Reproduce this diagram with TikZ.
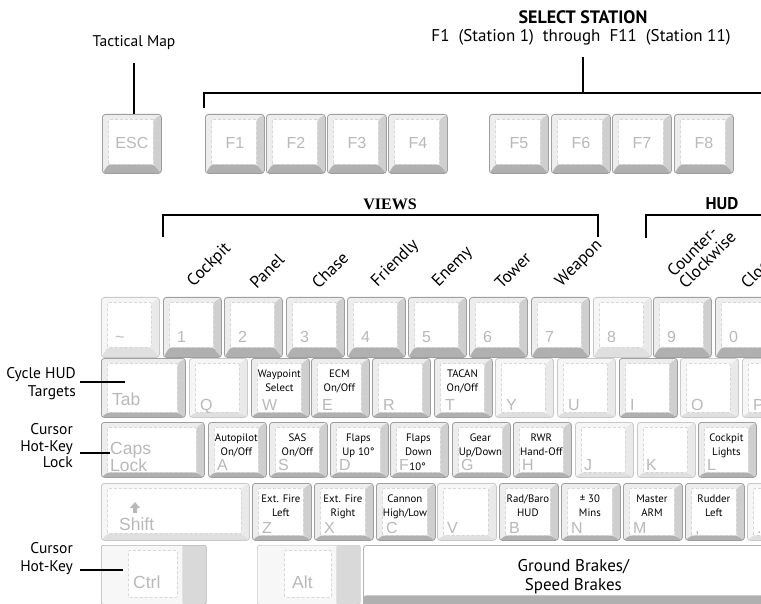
\documentclass[tikz,border=0pt]{standalone}
\usepackage{fontspec}
\setmainfont{PT Sans}
\newfontfamily\keyfont{Liberation Sans}
\newfontfamily\viewsfont{Liberation Serif}
\usetikzlibrary{arrows.meta, positioning}

\tikzset{
    key bottom/.store in=\keybottom,
    key side/.store in=\keyside,
    key inset/.store in=\keyinset,
    key bottom=gray!60,
    key side=gray!35,
    key inset=9pt,
}

\begin{document}
\begin{tikzpicture}[
    x=1pt, y=-1pt,
    keycap/.style={draw=gray!75, fill=gray!14, line width=0.8pt,
                   rounded corners=3pt, anchor=north west, inner sep=0pt,
                   minimum width=58pt, minimum height=59pt,
                   key bottom=gray!62, key side=gray!38,
                   path picture={
                     \coordinate (fsw) at ([shift={(6pt,\keyinset)}]path picture bounding box.south west);
                     \coordinate (fne) at ([shift={(-8pt,-5pt)}]path picture bounding box.north east);
                     \fill[fill=\keybottom] (path picture bounding box.south west) -- (path picture bounding box.south east)
                         -- (fne |- fsw) -- (fsw) -- cycle;
                     \fill[fill=\keyside] (path picture bounding box.south east) -- (path picture bounding box.north east)
                         -- (fne) -- (fne |- fsw) -- cycle;
                     \draw[gray!45, densely dashed, line width=0.4pt, fill=white, rounded corners=1pt] (fsw) rectangle (fne);
                   }},
    keydark/.style={},
    keylite/.style={draw=gray!42, fill=gray!7, key bottom=gray!25, key side=gray!17},
    flatkey/.style={draw=gray!60, fill=gray!6, line width=0.6pt, rounded corners=2pt,
                    anchor=north west, inner sep=0pt, minimum height=59pt,
                    path picture={
                      \fill[gray!30] ([xshift=-24pt]path picture bounding box.north east) rectangle (path picture bounding box.south east);
                      \draw[gray!45, densely dashed, line width=0.4pt, fill=white, rounded corners=1pt]
                          ([shift={(27pt,7pt)}]path picture bounding box.south west)
                          rectangle ([shift={(-29pt,-5pt)}]path picture bounding box.north east);
                    }},
    spacekey/.style={draw=gray!60, fill=white, line width=0.8pt, rounded corners=3pt,
                     anchor=north west, inner sep=0pt, align=center,
                     font=\fontsize{17}{18.5}\selectfont,
                     path picture={
                       \fill[gray!62] (path picture bounding box.south west) rectangle ([yshift=12pt]path picture bounding box.south east);
                     }},
    legend/.style={font=\keyfont\fontsize{16}{16}\selectfont, text=gray!55, inner sep=0pt, anchor=base west},
    bigleg/.style={legend, font=\keyfont\fontsize{17.5}{16}\selectfont, align=left},
    fnlabel/.style={font=\fontsize{10.8}{13.5}\selectfont, align=center, inner sep=0pt, anchor=north},
    note/.style={font=\fontsize{15.5}{18}\selectfont, align=right, inner sep=0pt},
    viewlbl/.style={font=\fontsize{17}{16.5}\selectfont, rotate=45, anchor=south west, inner sep=0pt, align=left},
    heading/.style={font=\bfseries\fontsize{18}{18}\selectfont, inner sep=0pt},
    bracket/.style={line width=1.3pt},
    leader/.style={line width=1.2pt},
]
    \useasboundingbox (0,0) rectangle (761,604);
    \clip (0,0) rectangle (761,604);

    % function keys
    \foreach \nm/\lx/\lg in {kEsc/102/ESC, kF1/205/F1, kF2/266/F2, kF3/327/F3, kF4/388/F4,
                             kF5/489/F5, kF6/551/F6, kF7/612/F7, kF8/674/F8}{
        \node[keycap, minimum width=59pt] (\nm) at (\lx,114) {};
        \node[legend, anchor=center] (\nm-lg) at ([yshift=1pt]\nm.center) {\lg};
    }

    % number row
    \foreach \nm/\lx/\lg/\st in {kTilde/101/\textasciitilde/keylite, k1/163/1/keydark, k2/224/2/keydark,
                                 k3/286/3/keydark, k4/347/4/keydark, k5/408/5/keydark, k6/469/6/keydark,
                                 k7/531/7/keydark, k8/593/8/keylite, k9/653/9/keydark, k0/715/0/keydark}{
        \node[keycap, \st, minimum height=60pt, key inset=10pt] (\nm) at (\lx,297) {};
        \node[legend] (\nm-lg) at ([shift={(14pt,15pt)}]\nm.south west) {\lg};
    }

    % top letter row
    \node[keycap, minimum width=84pt, key inset=5pt] (kTab) at (101,358) {};
    \node[bigleg] (kTab-lg) at ([shift={(11pt,12pt)}]kTab.south west) {Tab};
    \foreach \nm/\lx/\lg/\st in {kQ/189/Q/keylite, kW/251/W/keydark, kE/311/E/keydark, kR/372/R/keydark,
                                 kT/434/T/keydark, kY/495/Y/keylite, kU/557/U/keylite, kI/619/I/keydark,
                                 kO/680/O/keylite, kP/742/P/keylite}{
        \node[keycap, \st, key inset=5pt] (\nm) at (\lx,358) {};
        \node[legend] (\nm-lg) at ([shift={(11pt,7pt)}]\nm.south west) {\lg};
    }

    % home row
    \node[keycap, minimum width=103pt, minimum height=55pt, key inset=5pt] (kCaps) at (101,422) {};
    \node[bigleg, anchor=south west] (kCaps-lg) at ([shift={(9pt,6pt)}]kCaps.south west) {Caps\\Lock};
    \foreach \nm/\lx/\lg/\st in {kA/208/A/keydark, kS/269/S/keydark, kD/330/D/keydark, kF/390/F/keydark,
                                 kG/452/G/keydark, kH/513/H/keydark, kJ/575/J/keylite, kK/637/K/keylite,
                                 kL/698/L/keydark}{
        \node[keycap, \st, minimum height=55pt, key inset=5pt] (\nm) at (\lx,422) {};
        \node[legend] (\nm-lg) at ([shift={(9pt,7pt)}]\nm.south west) {\lg};
    }

    % shift row
    \node[keycap, keylite, minimum width=148pt, minimum height=57pt, key inset=7pt] (kShift) at (101,483) {};
    \node[bigleg] (kShift-lg) at ([shift={(18pt,10pt)}]kShift.south west) {Shift};
    \coordinate (shArr) at (135,502);
    \fill[gray!55] (shArr) -- ++(-5,6) -- ++(3,0) -- ++(0,5) -- ++(4,0) -- ++(0,-5) -- ++(3,0) -- cycle;
    \foreach \nm/\lx/\lg/\st in {kZ/252/Z/keydark, kX/314/X/keydark, kC/376/C/keydark, kV/437/V/keylite,
                                 kB/499/B/keydark, kN/561/N/keydark, kM/623/M/keydark, kComma/685/{,}/keydark,
                                 kDot/747/./keylite}{
        \node[keycap, \st, minimum width=59pt, minimum height=57pt, key inset=5pt] (\nm) at (\lx,483) {};
        \node[legend] (\nm-lg) at ([shift={(10pt,7pt)}]\nm.south west) {\lg};
    }

    % bottom row
    \node[flatkey, minimum width=105pt] (kCtrl) at (101,545) {};
    \node[bigleg] (kCtrl-lg) at ([shift={(32pt,16pt)}]kCtrl.south west) {Ctrl};
    \node[flatkey, draw=gray!40, minimum width=103pt] (kAlt) at (257,545) {};
    \node[bigleg] (kAlt-lg) at ([shift={(35pt,16pt)}]kAlt.south west) {Alt};
    \node[spacekey, minimum width=420pt, minimum height=62pt] (kSpace) at (363,545) {Ground Brakes/\\Speed Brakes};

    % labels inside the keys
    \foreach \k/\txt in {kW/{Waypoint\\Select}, kE/{ECM\\On/Off}, kT/{TACAN\\On/Off},
                         kA/{Autopilot\\On/Off}, kS/{SAS\\On/Off}, kD/{Flaps\\Up 10°},
                         kF/{Flaps\\Down}, kG/{Gear\\Up/Down}, kH/{RWR\\Hand-Off}, kL/{Cockpit\\Lights},
                         kZ/{Ext. Fire\\Left}, kX/{Ext. Fire\\Right}, kC/{Cannon\\High/Low},
                         kB/{Rad/Baro\\HUD}, kN/{± 30\\Mins}, kM/{Master\\ARM}, kComma/{Rudder\\Left}}
        \node[fnlabel] (\k-fn) at ([shift={(-1pt,-12pt)}]\k.north) {\txt};
    \node[inner sep=0pt, anchor=base west, font=\fontsize{10.8}{13}\selectfont] (kF-deg) at (kF-lg.base east) {10°};

    % select station
    \node[heading] (selTitle) at (583,17) {SELECT STATION};
    \node[note, font=\fontsize{17}{18}\selectfont] (selSub) at (581,37)
        {F1\ \ (Station 1)\ \ through\ \ F11\ \ (Station 11)};
    \coordinate (selTick) at (204,108);
    \coordinate (selStem) at (583,57);
    \draw[bracket] (selTick) -- ++(0,-15) -- ++(580,0);
    \draw[bracket] (selStem) -- ++(0,36);

    % tactical map
    \node[note] (tacLbl) at (134,43) {Tactical Map};
    \coordinate (tacTop) at (134,63);
    \draw[leader] (tacTop) -- (tacTop |- kEsc.north);

    % views and hud
    \node[inner sep=0pt, font=\viewsfont\bfseries\fontsize{16}{16}\selectfont] (viewsTitle) at (390,204) {VIEWS};
    \node[heading, font=\bfseries\fontsize{17}{17}\selectfont] (hudTitle) at (722,204) {HUD};
    \coordinate (viewsL) at (163,237);
    \coordinate (viewsR) at (598,237);
    \draw[bracket] (viewsL) -- ++(0,-22) -| (viewsR);
    \coordinate (hudL) at (646,238);
    \draw[bracket] (hudL) -- ++(0,-23) -- ++(130,0);

    \foreach \k/\nm/\txt in {k1/vCockpit/Cockpit, k2/vPanel/Panel, k3/vChase/Chase, k4/vFriendly/Friendly,
                             k5/vEnemy/Enemy, k6/vTower/Tower, k7/vWeapon/Weapon,
                             k9/hCcw/{Counter-\\Clockwise}, k0/hCw/Clockwise}
        \node[viewlbl] (\nm) at ([shift={(33pt,7pt)}]\k.north west) {\txt};

    % left side notes
    \node[note, anchor=east] (cycLbl) at (76,384) {Cycle HUD\\Targets};
    \coordinate (tabPt) at (125,382);
    \draw[leader] ([xshift=4pt]cycLbl.east |- tabPt) -- (tabPt);

    \node[note, anchor=east, font=\fontsize{15.5}{16.5}\selectfont] (capsLbl) at (73,446) {Cursor\\Hot-Key\\Lock};
    \coordinate (capsPt) at (110,453);
    \draw[leader] (80,453) -- (capsPt);

    \node[note, anchor=east] (ctrlLbl) at (73,559) {Cursor\\Hot-Key};
    \coordinate (ctrlPt) at (123,570);
    \draw[leader] ([xshift=7pt]ctrlLbl.east |- ctrlPt) -- (ctrlPt);
\end{tikzpicture}
\end{document}
